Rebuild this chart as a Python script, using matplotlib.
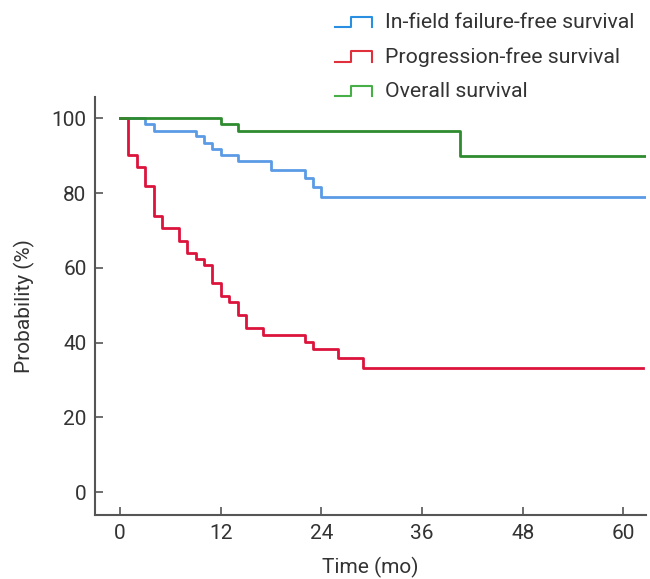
import matplotlib
matplotlib.use('Agg')
import matplotlib.pyplot as plt
from matplotlib.lines import Line2D
from matplotlib.legend_handler import HandlerBase

plt.rcParams['font.family'] = ['Roboto', 'DejaVu Sans']

# in-field failure-free survival
iffs_t = [0, 3, 4, 9, 10, 11, 12, 14, 18, 22, 23, 24, 62.7]
iffs_s = [100, 98.6, 96.7, 95.2, 93.5, 91.8, 90.1, 88.5, 86.2, 84.1, 81.6, 79.0, 79.0]

# progression-free survival
pfs_t = [0, 1, 2, 3, 4, 5, 7, 8, 9, 10, 11, 12, 13, 14, 15, 17, 22, 23, 26, 29, 62.3]
pfs_s = [100, 90.1, 86.9, 82.0, 73.9, 70.8, 67.2, 63.9, 62.3, 60.8, 55.9, 52.5,
         50.8, 47.3, 43.9, 42.1, 40.1, 38.3, 35.9, 33.3, 33.3]

# overall survival
os_t = [0, 12, 14, 40.5, 62.7]
os_s = [100, 98.6, 96.6, 89.8, 89.8]

labels = ['In-field failure-free survival', 'Progression-free survival', 'Overall survival']
line_colors = ['#5b9be6', '#dc143c', '#2e8b2e']
legend_colors = ['#2a8fe0', '#e0303c', '#48ae48']
x_ticks = [0, 12, 24, 36, 48, 60]
y_ticks = [0, 20, 40, 60, 80, 100]

text_col = '#333333'
spine_col = '#555555'


class StepHandler(HandlerBase):
    def create_artists(self, legend, orig_handle, xdescent, ydescent,
                       width, height, fontsize, trans):
        x0, x1 = -xdescent, -xdescent + width
        lo, hi = -ydescent + 0.05 * height, -ydescent + 0.75 * height
        xm = x0 + 0.45 * width
        ln = Line2D([x0, xm, xm, x1, x1], [lo, lo, hi, hi, lo],
                    color=orig_handle.get_color(), lw=1.5, transform=trans)
        return [ln]


fig = plt.figure(figsize=(6.5, 5.79), dpi=100)
ax = fig.add_axes([0.146, 0.11, 0.848, 0.723])

for t, s, c in zip([iffs_t, pfs_t, os_t], [iffs_s, pfs_s, os_s], line_colors):
    ax.step(t, s, where='post', color=c, lw=2.0)

ax.set_xlim(-3, 62.7)
ax.set_ylim(-6.2, 105.8)
ax.set_xticks(x_ticks)
ax.set_yticks(y_ticks)
ax.tick_params(direction='in', length=6, width=1.2, color=spine_col,
               labelsize=15, labelcolor=text_col, pad=6)
for side in ['top', 'right']:
    ax.spines[side].set_visible(False)
for side in ['left', 'bottom']:
    ax.spines[side].set_color(spine_col)
    ax.spines[side].set_linewidth(1.5)

ax.set_xlabel('Time (mo)', fontsize=15, color=text_col, labelpad=10)
ax.set_ylabel('Probability (%)', fontsize=15, color=text_col, labelpad=12)

handles = [Line2D([], [], color=c) for c in legend_colors]
fig.legend(handles, labels, loc='upper right', bbox_to_anchor=(0.995, 1.0),
           frameon=False, fontsize=15.3, labelcolor=text_col,
           handler_map={Line2D: StepHandler()}, handlelength=1.75,
           handletextpad=0.6, labelspacing=0.72, borderaxespad=0.2)

fig.savefig('out.png', dpi=100)
